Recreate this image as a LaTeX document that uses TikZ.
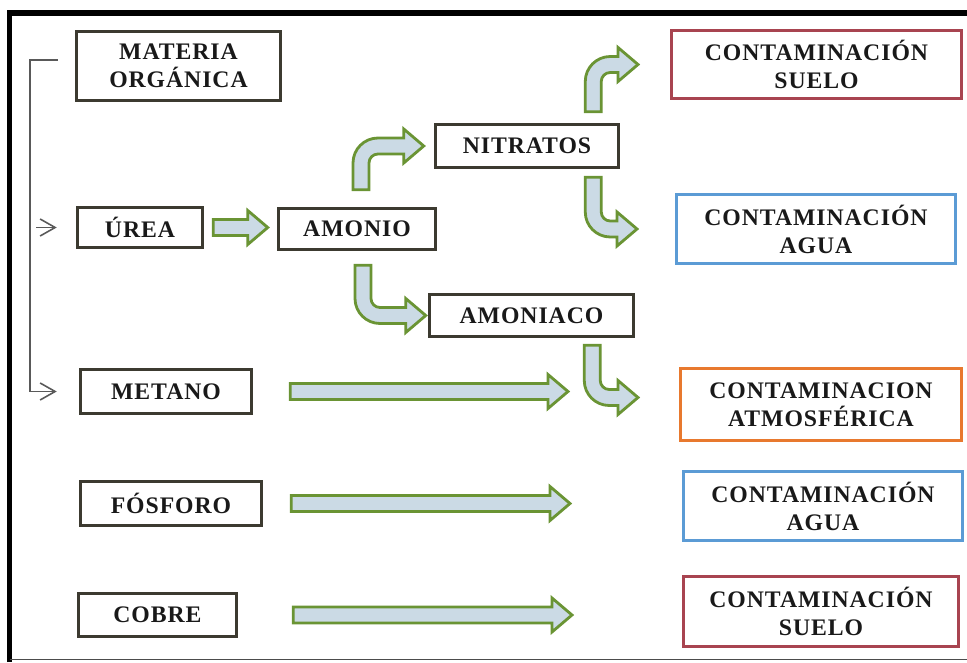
\documentclass[tikz,border=0pt]{standalone}
\usepackage{fontspec}
\setmainfont{Liberation Serif}[LetterSpace=4]
\usepackage{tikz}
\usetikzlibrary{calc,arrows.meta}

\definecolor{boxgray}{RGB}{60,58,48}
\definecolor{soilred}{RGB}{168,68,80}
\definecolor{waterblue}{RGB}{91,155,213}
\definecolor{airorange}{RGB}{232,121,46}
\definecolor{leafgreen}{RGB}{106,148,52}
\definecolor{paleblue}{RGB}{203,218,229}

\begin{document}
\begin{tikzpicture}[
    font=\fontsize{13.5}{16}\selectfont\bfseries,
    box/.style={draw=boxgray, line width=2pt, align=center, text=black!90, inner sep=0pt},
    cbox/.style={box, line width=1.7pt},
    bracket/.style={draw=black!65, line width=0.9pt},
    garrow/.style={draw=leafgreen, fill=paleblue, line width=1.6pt, line join=miter},
    straight/.style={to path={let \p1=(\tikztostart), \p2=(\tikztotarget) in
        (\x1,\y1+0.16cm) -- (\x2-0.4cm,\y1+0.16cm) -- (\x2-0.4cm,\y1+0.34cm) -- (\x2,\y1)
        -- (\x2-0.4cm,\y1-0.34cm) -- (\x2-0.4cm,\y1-0.16cm) -- (\x1,\y1-0.16cm) -- cycle}},
    bendup/.style={to path={let \p1=(\tikztostart), \p2=(\tikztotarget) in
        (\x1-0.16cm,\y1) -- (\x1-0.16cm,\y2-0.34cm) arc[start angle=180, end angle=90, radius=0.5cm]
        -- (\x2-0.4cm,\y2+0.16cm) -- (\x2-0.4cm,\y2+0.34cm) -- (\x2,\y2) -- (\x2-0.4cm,\y2-0.34cm)
        -- (\x2-0.4cm,\y2-0.16cm) -- (\x1+0.34cm,\y2-0.16cm) arc[start angle=90, end angle=180, radius=0.18cm]
        -- (\x1+0.16cm,\y1) -- cycle}},
    benddown/.style={to path={let \p1=(\tikztostart), \p2=(\tikztotarget) in
        (\x1-0.16cm,\y1) -- (\x1-0.16cm,\y2+0.34cm) arc[start angle=180, end angle=270, radius=0.5cm]
        -- (\x2-0.4cm,\y2-0.16cm) -- (\x2-0.4cm,\y2-0.34cm) -- (\x2,\y2) -- (\x2-0.4cm,\y2+0.34cm)
        -- (\x2-0.4cm,\y2+0.16cm) -- (\x1+0.34cm,\y2+0.16cm) arc[start angle=270, end angle=180, radius=0.18cm]
        -- (\x1+0.16cm,\y1) -- cycle}}
  ]
      \useasboundingbox (0,0) rectangle (19.34,13.24);

      % frame
      \draw [line width=0.11cm] (0.19,0) -- (0.19,12.98) -- (19.34,12.98);
      \draw [black!70, line width=0.6pt] (0.19,0.05) -- (19.34,0.05);

      % sources
      \node[box, minimum width=4.08cm, minimum height=1.38cm](mat) at (3.57, 11.92){MATERIA\\ORGÁNICA};
      \node[box, minimum width=2.50cm, minimum height=0.80cm](urea) at (2.80, 8.69){ÚREA};
      \node[box, minimum width=3.42cm, minimum height=0.88cm](metano) at (3.32, 5.41){METANO};
      \node[box, minimum width=3.62cm, minimum height=0.88cm](fosforo) at (3.42, 3.17){FÓSFORO};
      \node[box, minimum width=3.16cm, minimum height=0.86cm](cobre) at (3.15, 0.94){COBRE};

      % intermediate products
      \node[box, minimum width=3.14cm, minimum height=0.82cm](amonio) at (7.14, 8.66){AMONIO};
      \node[box, minimum width=3.66cm, minimum height=0.86cm](nitratos) at (10.54, 10.32){NITRATOS};
      \node[box, minimum width=4.08cm, minimum height=0.84cm](amoniaco) at (10.63, 6.93){AMONIACO};

      % pollution boxes
      \node[cbox, draw=soilred, minimum width=5.80cm, minimum height=1.36cm](suelo1) at (16.33, 11.95){CONTAMINACIÓN\\SUELO};
      \node[cbox, draw=waterblue, minimum width=5.58cm, minimum height=1.38cm](agua1) at (16.32, 8.66){CONTAMINACIÓN\\AGUA};
      \node[cbox, draw=airorange, minimum width=5.62cm, minimum height=1.44cm](atmos) at (16.42, 5.15){CONTAMINACION\\ATMOSFÉRICA};
      \node[cbox, draw=waterblue, minimum width=5.58cm, minimum height=1.38cm](agua2) at (16.46, 3.12){CONTAMINACIÓN\\AGUA};
      \node[cbox, draw=soilred, minimum width=5.50cm, minimum height=1.40cm](suelo2) at (16.42, 1.01){CONTAMINACIÓN\\SUELO};

      % bracket from materia organica
      \draw [bracket, -{Straight Barb[length=0.3cm, width=0.34cm]}]
            ([xshift=-0.34cm, yshift=0.12cm]mat.west) -| (0.6,5.41) -- ([xshift=-0.44cm]metano.west);
      \draw [bracket, -{Straight Barb[length=0.3cm, width=0.34cm]}]
            (0.72,0 |- urea.west) -- ([xshift=-0.38cm]urea.west);

      % green arrows
      \draw [garrow] ([xshift=0.18cm]urea.east) to[straight] ([xshift=-0.18cm]amonio.west);
      \draw [garrow] ([shift={(0.08,0.34)}]amonio.north) to[bendup] ([xshift=-0.2cm]nitratos.west);
      \draw [garrow] ([shift={(0.12,-0.28)}]amonio.south) to[benddown] ([xshift=-0.04cm]amoniaco.west);
      \draw [garrow] ([shift={(-0.54,0.22)}]nitratos.north east) to[bendup] ([xshift=-0.64cm]suelo1.west);
      \draw [garrow] ([shift={(-0.54,-0.16)}]nitratos.south east) to[benddown] ([xshift=-0.76cm]agua1.west);
      \draw [garrow] ([shift={(-0.86,-0.14)}]amoniaco.south east) to[benddown] ([shift={(-0.82,0.14)}]atmos.west);

      % long arrows
      \coordinate (metEnd) at (11.36, 5.41);
      \coordinate (fosEnd) at (11.40, 3.17);
      \coordinate (cobEnd) at (11.44, 0.94);
      \draw [garrow] ([xshift=0.74cm]metano.east) to[straight] (metEnd);
      \draw [garrow] ([xshift=0.56cm]fosforo.east) to[straight] (fosEnd);
      \draw [garrow] ([xshift=1.10cm]cobre.east) to[straight] (cobEnd);
\end{tikzpicture}
\end{document}
